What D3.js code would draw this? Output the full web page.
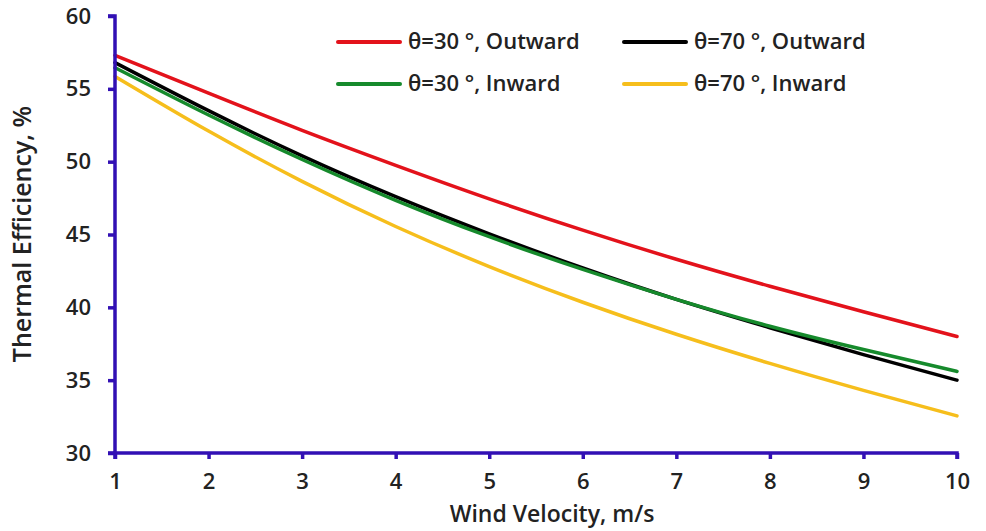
<!DOCTYPE html>
<html>
<head>
<meta charset="utf-8">
<script src="https://cdn.jsdelivr.net/npm/d3@7"></script>
<style>
  body { margin: 0; background: #fff; }
  svg { display: block; }
  text { font-family: "Open Sans", "DejaVu Sans", sans-serif; }
</style>
</head>
<body>
<svg id="chart" width="986" height="531"></svg>
<script>
const windVelocity = [1, 2, 3, 4, 5, 6, 7, 8, 9, 10];
const out30 = [57.3, 54.7, 52.15, 49.75, 47.45, 45.3, 43.3, 41.45, 39.7, 38.0];
const out70 = [56.8, 53.5, 50.4, 47.6, 45.05, 42.7, 40.55, 38.6, 36.75, 35.0];
const in30  = [56.45, 53.2, 50.15, 47.35, 44.85, 42.6, 40.55, 38.7, 37.1, 35.6];
const in70  = [55.85, 52.1, 48.65, 45.55, 42.8, 40.35, 38.15, 36.15, 34.3, 32.55];
const seriesNames = ["θ=30 °, Outward", "θ=70 °, Outward", "θ=30 °, Inward", "θ=70 °, Inward"];
const xTicks = [1, 2, 3, 4, 5, 6, 7, 8, 9, 10];
const yTicks = [30, 35, 40, 45, 50, 55, 60];

const series = [
  { name: seriesNames[0], values: out30, color: "#e3121b" },
  { name: seriesNames[1], values: out70, color: "#000000" },
  { name: seriesNames[2], values: in30,  color: "#168a2c" },
  { name: seriesNames[3], values: in70,  color: "#f6be1c" }
];

const svg = d3.select("#chart");
const mLeft = 115, mRight = 957, mTop = 16, mBottom = 453;
const axisColor = "#3210b4";

const x = d3.scaleLinear().domain([1, 10]).range([mLeft, mRight]);
const y = d3.scaleLinear().domain([30, 60]).range([mBottom, mTop]);

// curves
const line = d3.line().x((d, i) => x(windVelocity[i])).y(d => y(d)).curve(d3.curveNatural);
series.forEach(s => {
  svg.append("path").datum(s.values)
    .attr("fill", "none").attr("stroke", s.color).attr("stroke-width", 3.5)
    .attr("stroke-linecap", "round")
    .attr("d", line);
});

// axes
const yAxis = svg.append("g").attr("transform", `translate(${mLeft},0)`)
  .call(d3.axisLeft(y).tickValues(yTicks).tickSize(7).tickPadding(17));
const xAxis = svg.append("g").attr("transform", `translate(0,${mBottom})`)
  .call(d3.axisBottom(x).tickValues(xTicks).tickSize(6).tickPadding(14));
[yAxis, xAxis].forEach(g => {
  g.select(".domain").attr("stroke", axisColor).attr("stroke-width", 3.5);
  g.selectAll(".tick line").attr("stroke", axisColor).attr("stroke-width", 3.5);
  g.selectAll(".tick text").attr("fill", "#222").attr("font-size", 22).attr("font-weight", 600);
});
xAxis.select(".domain").attr("d", `M${mLeft},6V0H${mRight}V6`);
yAxis.select(".domain").attr("d", `M-7,${mBottom}H0V${mTop}H-7`);

// axis titles
svg.append("text").attr("x", 552).attr("y", 522).attr("text-anchor", "middle")
  .attr("font-size", 23).attr("font-weight", 600).attr("fill", "#222")
  .text("Wind Velocity, m/s");
svg.append("text").attr("transform", "translate(31,234) rotate(-90)").attr("text-anchor", "middle")
  .attr("font-size", 25).attr("font-weight", 600).attr("fill", "#222")
  .text("Thermal Efficiency, %");

// legend
const legendPos = [[338, 42], [624, 42], [338, 84], [624, 84]];
series.forEach((s, i) => {
  const [lx, ly] = legendPos[i];
  const g = svg.append("g").attr("transform", `translate(${lx},${ly})`);
  g.append("line").attr("x1", 0).attr("x2", 62).attr("y1", 0).attr("y2", 0)
    .attr("stroke", s.color).attr("stroke-width", 4).attr("stroke-linecap", "round");
  g.append("text").attr("x", 70).attr("y", 7).attr("font-size", 22).attr("font-weight", 600)
    .attr("fill", "#222").text(s.name);
});
</script>
</body>
</html>
